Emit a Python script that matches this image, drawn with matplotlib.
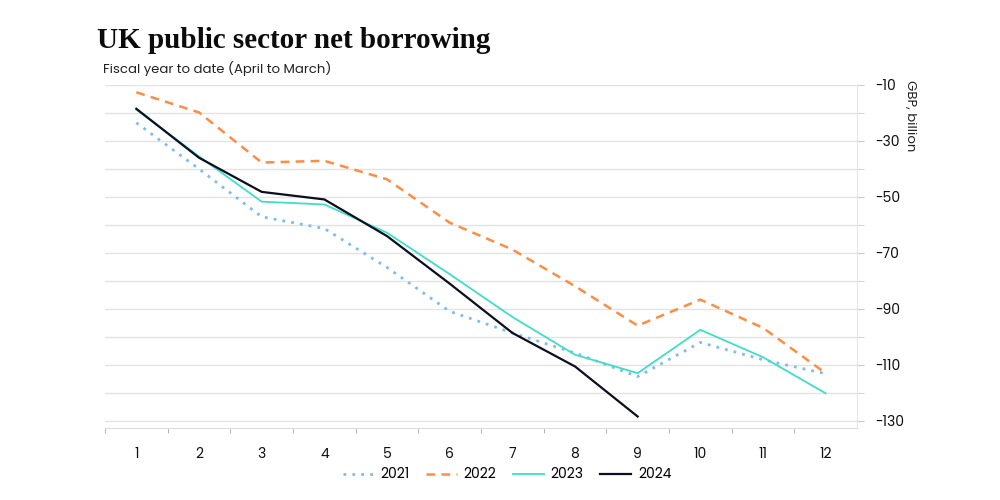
import matplotlib
matplotlib.use("Agg")
import matplotlib.pyplot as plt
from matplotlib.ticker import MultipleLocator, FixedLocator, NullFormatter

months = list(range(1, 13))
s2021 = [-23.5, -40.0, -57.1, -61.3, -75.2, -90.9, -98.6, -105.8, -114.2, -102.0, -108.2, -113.2]
s2022 = [-12.6, -19.8, -37.7, -37.1, -43.7, -59.2, -68.8, -81.9, -96.0, -86.7, -96.8, -113.0]
s2023 = [-18.8, -35.5, -51.7, -52.7, -62.8, -77.6, -92.9, -106.4, -113.0, -97.5, -107.3, -120.2]
s2024 = [-18.5, -36.0, -48.2, -50.9, -64.0, -81.0, -98.6, -110.6, -128.5]
ytick_vals = [-10, -30, -50, -70, -90, -110, -130]

plt.rcParams['font.family'] = ['Poppins', 'Inter', 'DejaVu Sans']
plt.rcParams['axes.unicode_minus'] = False

fig = plt.figure(figsize=(10, 5), dpi=100)
ax = fig.add_axes([0.105, 0.144, 0.752, 0.686])

ax.plot(months, s2021, color='#7dbcf0', linestyle=(0, (1, 2.2)), linewidth=2, label='2021')
ax.plot(months, s2022, color='#ff8c42', linestyle=(0, (3.5, 2.5)), linewidth=1.8, label='2022')
ax.plot(months, s2023, color='#3ddfc6', linewidth=1.3, label='2023')
ax.plot(months[:len(s2024)], s2024, color='#0b0f1f', linewidth=1.6, label='2024')

ax.set_xlim(0.5, 12.5)
ax.set_ylim(-132.6, -10)

ax.yaxis.tick_right()
ax.yaxis.set_major_locator(FixedLocator(ytick_vals))
ax.yaxis.set_minor_locator(MultipleLocator(10))
ax.tick_params(axis='y', which='both', length=5, color='#cccccc', labelsize=10, pad=8, labelcolor='#111111')
ax.grid(axis='y', which='both', color='#e3e3e3', linewidth=1)
ax.set_axisbelow(True)

ax.xaxis.set_major_locator(FixedLocator(months))
ax.xaxis.set_minor_locator(FixedLocator([m + 0.5 for m in range(0, 12)]))
ax.xaxis.set_minor_formatter(NullFormatter())
ax.tick_params(axis='x', which='major', length=0, labelsize=10, pad=14, labelcolor='#111111')
ax.tick_params(axis='x', which='minor', length=3.5, color='#aaaaaa')

for s in ['top', 'left']:
    ax.spines[s].set_visible(False)
ax.spines['bottom'].set_color('#dddddd')
ax.spines['right'].set_color('#e6e6e6')

fig.text(0.097, 0.905, 'UK public sector net borrowing', fontsize=21, fontweight='bold',
         family=['Liberation Serif', 'DejaVu Serif'], color='#0b0b0b', va='baseline')
fig.text(0.103, 0.854, 'Fiscal year to date (April to March)', fontsize=9.5, color='#222222', va='baseline')
fig.text(0.904, 0.84, 'GBP, billion', rotation=270, fontsize=9.5, color='#222222', va='top', ha='left')

leg = fig.legend(loc='center', bbox_to_anchor=(0.507, 0.05), ncol=4, frameon=False,
                 fontsize=10, handlelength=2.2, columnspacing=1.2, handletextpad=0.5)

fig.savefig('out.png', dpi=100)
